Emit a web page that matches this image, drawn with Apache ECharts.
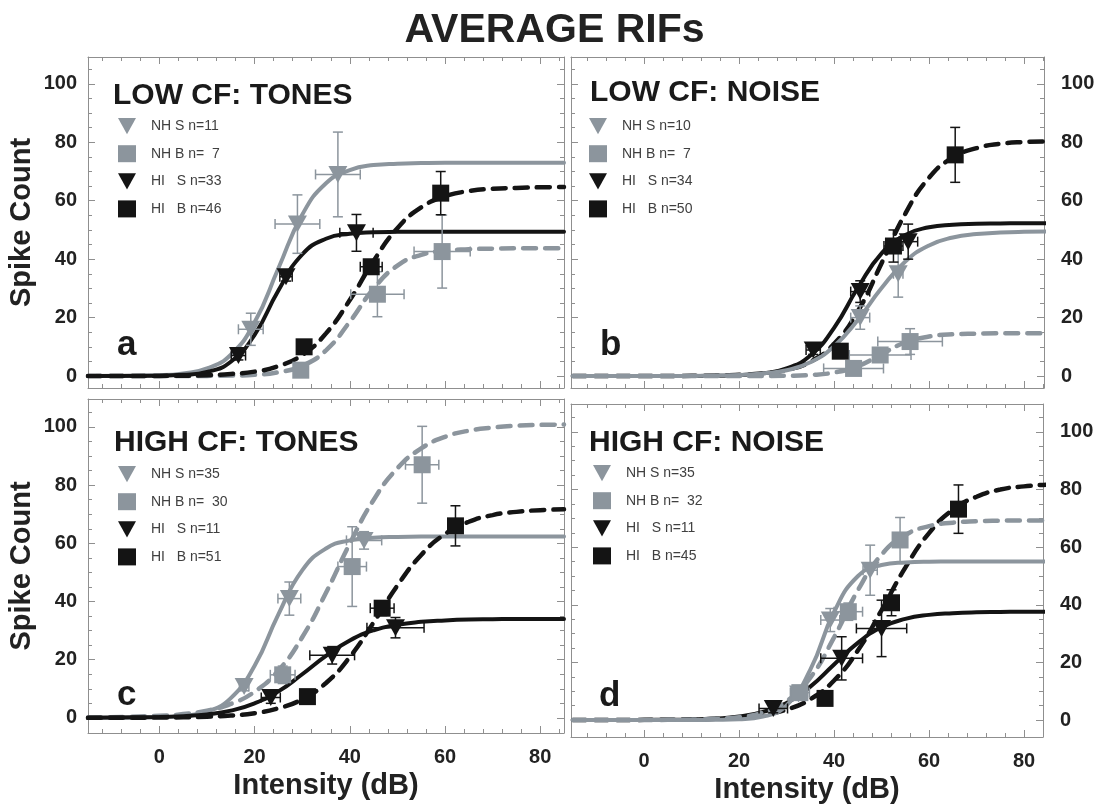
<!DOCTYPE html>
<html>
<head>
<meta charset="utf-8">
<script src="https://cdn.jsdelivr.net/npm/echarts@6/dist/echarts.min.js"></script>
<style>
html, body { margin: 0; padding: 0; background: #fff; }
#main { width: 1109px; height: 805px; }
</style>
</head>
<body>
<div id="main"></div>
<script>
var curveX = [-15, 0, 5, 10, 15, 20, 25, 30, 35, 40, 45, 50, 55, 60, 65, 70, 75, 80, 85];

// axis ticks
var xMajor = [0, 20, 40, 60, 80];
var xMinor = [-12, -8, -4, 4, 8, 12, 16, 24, 28, 32, 36, 44, 48, 52, 56, 64, 68, 72, 76, 84];
var yMajor = [0, 20, 40, 60, 80, 100];
var yMinor = [5, 10, 15, 25, 30, 35, 45, 50, 55, 65, 70, 75, 85, 90, 95, 105];

// ---- panel a: LOW CF tones ----
var aNames = ['NH S n=11', 'NH B n=  7', 'HI   S n=33', 'HI   B n=46'];
var aNHSfit = [0, 0.3, 0.9, 2.6, 7.3, 18.4, 36.9, 55.2, 66, 70.5, 72.2, 72.7, 72.9, 73, 73, 73, 73, 73, 73];
var aNHBfit = [0, 0, 0, 0.05, 0.15, 0.4, 1.3, 3.5, 8.8, 18.6, 29.9, 37.8, 41.5, 42.9, 43.4, 43.6, 43.7, 43.7, 43.7];
var aHISfit = [0, 0.1, 0.4, 1.4, 4.9, 14.1, 29.3, 41.6, 47, 48.7, 49.2, 49.35, 49.4, 49.4, 49.4, 49.4, 49.4, 49.4, 49.4];
var aHIBfit = [0, 0.05, 0.1, 0.3, 0.7, 1.5, 3.4, 7.2, 14.6, 26, 39.4, 50.6, 57.7, 61.5, 63.3, 64.1, 64.4, 64.6, 64.7];
// points: [dB, count, xErr, yErr]
var aNHS = [[19.2, 16, 2.6, 5.5], [29, 52, 4.7, 10], [37.5, 69, 4.7, 14.5]];
var aNHB = [[29.7, 2, 0, 0], [45.8, 28, 5.6, 7.7], [59.4, 42.6, 5.9, 12.5]];
var aHIS = [[16.6, 7, 1.5, 1.5], [26.6, 34, 1.3, 1.5], [41.4, 49, 3.5, 6.3]];
var aHIB = [[30.4, 10, 1, 1], [44.5, 37.4, 2.3, 1.5], [59.1, 62.6, 1, 7.4]];

// ---- panel b: LOW CF noise ----
var bNames = ['NH S n=10', 'NH B n=  7', 'HI   S n=34', 'HI   B n=50'];
var bNHSfit = [0, 0, 0, 0.05, 0.15, 0.35, 0.9, 2, 4.7, 10.2, 19.2, 30.1, 39.2, 44.7, 47.4, 48.6, 49.1, 49.35, 49.45];
var bNHBfit = [0, 0, 0, 0, 0, 0, 0.03, 0.1, 0.35, 1.2, 3.4, 7.5, 11.5, 13.5, 14.3, 14.5, 14.6, 14.6, 14.6];
var bHISfit = [0, 0, 0, 0.03, 0.1, 0.3, 0.9, 2.6, 7, 16.5, 30.2, 42, 48.3, 50.9, 51.8, 52.1, 52.2, 52.3, 52.3];
var bHIBfit = [0, 0, 0, 0.06, 0.15, 0.4, 0.9, 2.1, 4.9, 11, 22.2, 38.6, 55.6, 67.9, 74.8, 78, 79.5, 80.1, 80.3];
var bNHS = [[45.5, 20, 2, 4], [53.5, 35, 1, 8]];
var bNHB = [[44.1, 2.6, 6.3, 1], [49.7, 7.2, 6.5, 2], [56, 11.8, 6.8, 4.4]];
var bHIS = [[35.6, 8.9, 1.5, 1.5], [45.5, 28.9, 2, 3.7], [55.6, 46, 2, 6]];
var bHIB = [[41.3, 8.5, 1.5, 1.5], [52.5, 44.5, 2, 5.5], [65.5, 75.7, 1, 9.4]];

// ---- panel c: HIGH CF tones ----
var cNames = ['NH S n=35', 'NH B n=  30', 'HI   S n=11', 'HI   B n=51'];
var cNHSfit = [0, 0.2, 0.7, 2.2, 6.8, 17.9, 35.6, 50.7, 58.2, 61, 61.9, 62.2, 62.3, 62.3, 62.3, 62.3, 62.3, 62.3, 62.3];
var cNHBfit = [0.1, 0.7, 1.3, 2.5, 4.8, 9, 16.3, 27.7, 43, 59.9, 74.9, 85.8, 92.6, 96.6, 98.7, 99.8, 100.4, 100.7, 100.8];
var cHISfit = [0, 0.3, 0.6, 1.2, 2.5, 5, 9.1, 15, 21.3, 26.6, 30.1, 32, 33, 33.5, 33.8, 33.9, 34, 34, 34];
var cHIBfit = [0, 0.1, 0.2, 0.4, 0.8, 1.6, 3.3, 6.4, 12, 20.9, 32.8, 45.5, 56, 63.2, 67.4, 69.7, 70.8, 71.4, 71.7];
var cNHS = [[17.8, 10.8, 1, 1.5], [27.3, 41, 2.4, 5.7], [43, 61, 3.7, 3]];
var cNHB = [[25.9, 14.8, 2.6, 3], [40.5, 52, 3, 13.7], [55.2, 87, 3.5, 13.2]];
var cHIS = [[23.4, 7, 2, 2], [36.3, 21.5, 4.7, 3], [49.6, 31, 6, 3.5]];
var cHIB = [[31.1, 7.3, 1, 1], [46.8, 37.7, 2.5, 2.5], [62.2, 66, 1, 6.9]];

// ---- panel d: HIGH CF noise ----
var dNames = ['NH S n=35', 'NH B n=  32', 'HI   S n=11', 'HI   B n=45'];
var dNHSfit = [0, 0, 0, 0, 0.06, 0.26, 1.2, 5.1, 17.5, 37.5, 49.9, 53.8, 54.7, 54.95, 55, 55, 55, 55, 55];
var dNHBfit = [0, 0, 0.06, 0.15, 0.4, 1, 2.6, 6.5, 14.7, 28.7, 45, 57.4, 64.2, 67.3, 68.5, 69, 69.2, 69.3, 69.3];
var dHISfit = [0, 0.04, 0.09, 0.2, 0.5, 1.2, 2.8, 5.9, 11.6, 19.3, 26.8, 32.2, 35.1, 36.5, 37.1, 37.4, 37.5, 37.6, 37.6];
var dHIBfit = [0, 0.05, 0.1, 0.2, 0.4, 0.85, 1.8, 3.6, 7.2, 13.7, 24.1, 38.1, 52.9, 64.9, 73, 77.5, 80, 81.1, 81.7];
var dNHS = [[32.5, 9, 1.5, 1.5], [39.2, 34.7, 2, 4], [47.6, 52, 1.5, 8.7]];
var dNHB = [[32.8, 9.5, 2, 2], [43, 37.6, 3, 3], [53.9, 62.5, 1.5, 7.8]];
var dHIS = [[27.2, 4, 3, 1.5], [41.6, 21.4, 4.4, 7.5], [50, 31.8, 5.3, 9.8]];
var dHIB = [[38.1, 7.5, 1, 1], [52.1, 40.7, 1.5, 4.5], [66.2, 73.2, 1, 8.4]];

var FONT = 'Liberation Sans';
var GRAY = '#8c959d';
var BLACK = '#141414';
var AXIS = '#8f8f8f';
var TRI = 'path://M0,0L10,0L5,9Z';

// order of the four groups in every panel: NH S, NH B, HI S, HI B
var kinds = [
  { color: GRAY, symbol: TRI, size: [19, 17], dash: false },
  { color: GRAY, symbol: 'rect', size: 17, dash: true },
  { color: BLACK, symbol: TRI, size: [19, 17], dash: false },
  { color: BLACK, symbol: 'rect', size: 17, dash: true }
];

var panels = [
  { grid: { left: 88, top: 57, width: 476, height: 331 }, x: [-15, 85], y: [-4.1, 109.2],
    ySide: 'left', bottomRow: false, grayOnTop: false, title: 'LOW CF: TONES', letter: 'a',
    names: aNames, fits: [aNHSfit, aNHBfit, aHISfit, aHIBfit], pts: [aNHS, aNHB, aHIS, aHIB],
    titlePos: [113, 81], letterPos: [117, 328], legendPos: [118, 118] },
  { grid: { left: 571, top: 57, width: 473, height: 331 }, x: [-15.4, 84.2], y: [-4.1, 109.2],
    ySide: 'right', bottomRow: false, grayOnTop: true, title: 'LOW CF: NOISE', letter: 'b',
    names: bNames, fits: [bNHSfit, bNHBfit, bHISfit, bHIBfit], pts: [bNHS, bNHB, bHIS, bHIB],
    titlePos: [590, 78], letterPos: [600, 328], legendPos: [589, 118] },
  { grid: { left: 88, top: 399, width: 476, height: 334 }, x: [-15, 85], y: [-5.2, 109.6],
    ySide: 'left', bottomRow: true, grayOnTop: false, title: 'HIGH CF: TONES', letter: 'c',
    names: cNames, fits: [cNHSfit, cNHBfit, cHISfit, cHIBfit], pts: [cNHS, cNHB, cHIS, cHIB],
    titlePos: [114, 428], letterPos: [117, 678], legendPos: [118, 466] },
  { grid: { left: 571, top: 404, width: 472, height: 333 }, x: [-15.4, 84], y: [-5.9, 109.7],
    ySide: 'right', bottomRow: true, grayOnTop: true, title: 'HIGH CF: NOISE', letter: 'd',
    names: dNames, fits: [dNHSfit, dNHBfit, dHISfit, dHIBfit], pts: [dNHS, dNHB, dHIS, dHIB],
    titlePos: [589, 428], letterPos: [599, 679], legendPos: [593, 465] }
];

var labelStyle = { fontFamily: FONT, fontWeight: 'bold', fontSize: 20, color: '#222' };
var nameStyle = { fontFamily: FONT, fontWeight: 'bold', fontSize: 29, color: '#222' };

// 4 axes per dimension: major line+ticks(+labels) and minor ticks, on both edges
function makeAxes(gi, p, dim) {
  var isX = dim === 'x';
  var range = isX ? p.x : p.y;
  var major = isX ? xMajor : yMajor;
  var minor = isX ? xMinor : yMinor;
  var sides = isX ? ['bottom', 'top'] : ['left', 'right'];
  var labelSide = isX ? (p.bottomRow ? 'bottom' : '') : p.ySide;
  var out = [];
  sides.forEach(function (s) {
    var lab = s === labelSide;
    var ax = {
      gridIndex: gi, type: 'value', position: s, min: range[0], max: range[1],
      axisLine: { show: true, onZero: false, lineStyle: { color: AXIS, width: 1 } },
      axisTick: { show: true, inside: true, length: 7, customValues: major, lineStyle: { color: AXIS } },
      axisLabel: Object.assign({ show: lab, customValues: major, margin: isX ? 14 : (s === 'left' ? 11 : 17) }, labelStyle),
      splitLine: { show: false }
    };
    if (lab && isX) {
      ax.name = 'Intensity (dB)'; ax.nameLocation = 'middle'; ax.nameGap = 38; ax.nameTextStyle = nameStyle;
    }
    if (lab && !isX && s === 'left') {
      ax.name = 'Spike Count'; ax.nameLocation = 'middle'; ax.nameGap = 52; ax.nameTextStyle = nameStyle;
    }
    out.push(ax);
    out.push({
      gridIndex: gi, type: 'value', position: s, min: range[0], max: range[1],
      axisLine: { show: false, onZero: false },
      axisTick: { show: true, inside: true, length: 4, customValues: minor, lineStyle: { color: AXIS } },
      axisLabel: { show: false },
      splitLine: { show: false }
    });
  });
  return out;
}

function errRender(params, api) {
  var x = api.value(0), y = api.value(1), ex = api.value(2), ey = api.value(3);
  var c = api.coord([x, y]);
  var st = { stroke: api.visual('color'), lineWidth: 1.5, fill: null };
  var cap = 5;
  var ch = [];
  if (ey > 0) {
    var t = api.coord([x, y + ey])[1], b = api.coord([x, y - ey])[1];
    ch.push({ type: 'line', shape: { x1: c[0], y1: t, x2: c[0], y2: b }, style: st });
    ch.push({ type: 'line', shape: { x1: c[0] - cap, y1: t, x2: c[0] + cap, y2: t }, style: st });
    ch.push({ type: 'line', shape: { x1: c[0] - cap, y1: b, x2: c[0] + cap, y2: b }, style: st });
  }
  if (ex > 0) {
    var l = api.coord([x - ex, y])[0], r = api.coord([x + ex, y])[0];
    ch.push({ type: 'line', shape: { x1: l, y1: c[1], x2: r, y2: c[1] }, style: st });
    ch.push({ type: 'line', shape: { x1: l, y1: c[1] - cap, x2: l, y2: c[1] + cap }, style: st });
    ch.push({ type: 'line', shape: { x1: r, y1: c[1] - cap, x2: r, y2: c[1] + cap }, style: st });
  }
  return { type: 'group', children: ch };
}

var grids = [], xAxes = [], yAxes = [], series = [], legends = [];
var titles = [{
  text: 'AVERAGE RIFs', left: 'center', top: 10, padding: 0,
  textStyle: { fontFamily: FONT, fontWeight: 'bold', fontSize: 41, color: '#222' }
}];

panels.forEach(function (p, gi) {
  grids.push(Object.assign({ outerBoundsMode: 'none' }, p.grid));
  xAxes = xAxes.concat(makeAxes(gi, p, 'x'));
  yAxes = yAxes.concat(makeAxes(gi, p, 'y'));
  var xi = gi * 4, yi = gi * 4;

  titles.push({ text: p.title, left: p.titlePos[0], top: p.titlePos[1], padding: 0,
    textStyle: { fontFamily: FONT, fontWeight: 'bold', fontSize: 30, color: '#1a1a1a' } });
  titles.push({ text: p.letter, left: p.letterPos[0], top: p.letterPos[1], padding: 0,
    textStyle: { fontFamily: FONT, fontWeight: 'bold', fontSize: 35, color: '#1a1a1a' } });

  // fitted curves; in the noise panels the gray fits sit on top of the black ones
  [0, 1, 2, 3].forEach(function (k) {
    var kd = kinds[k];
    var isGray = k < 2;
    series.push({
      type: 'line', xAxisIndex: xi, yAxisIndex: yi, showSymbol: false, silent: true,
      smooth: 0.5, z: 2 + ((isGray === p.grayOnTop) ? 1 : 0),
      data: curveX.map(function (x, i) { return [x, p.fits[k][i]]; }),
      lineStyle: { color: kd.color, width: kd.dash ? 4.5 : 4, type: kd.dash ? [13, 9] : 'solid', cap: 'round' }
    });
  });
  // error bars
  [0, 1, 2, 3].forEach(function (k) {
    series.push({
      type: 'custom', xAxisIndex: xi, yAxisIndex: yi, renderItem: errRender, z: 4, silent: true,
      itemStyle: { color: kinds[k].color }, encode: { x: 0, y: 1 },
      data: p.pts[k]
    });
  });
  // markers (these carry the legend names)
  [0, 1, 2, 3].forEach(function (k) {
    var kd = kinds[k];
    series.push({
      type: 'scatter', name: p.names[k], xAxisIndex: xi, yAxisIndex: yi, z: 5,
      symbol: kd.symbol, symbolSize: kd.size,
      itemStyle: { color: kd.color, opacity: 1 },
      data: p.pts[k].map(function (d) { return [d[0], d[1]]; })
    });
  });

  legends.push({
    data: p.names, orient: 'vertical', left: p.legendPos[0], top: p.legendPos[1], padding: 0,
    itemWidth: 18, itemHeight: 17, itemGap: 11, selectedMode: false,
    textStyle: { fontFamily: FONT, fontSize: 14, color: '#404040', padding: [0, 0, 0, 10] }
  });
});

var myChart = echarts.init(document.getElementById('main'));
myChart.setOption({
  backgroundColor: '#fff',
  animation: false,
  title: titles,
  legend: legends,
  grid: grids,
  xAxis: xAxes,
  yAxis: yAxes,
  series: series
});
</script>
</body>
</html>
